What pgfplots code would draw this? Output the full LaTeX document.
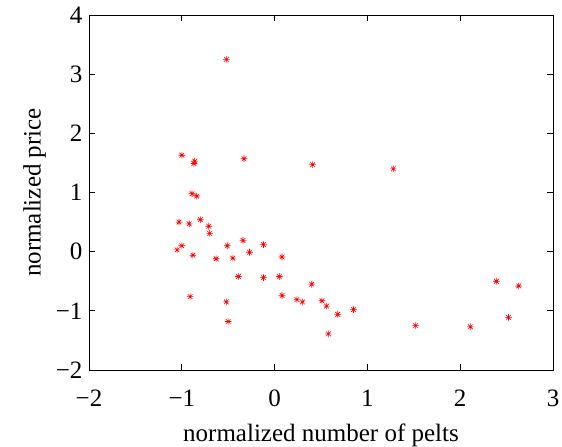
\documentclass[border=0pt]{standalone}
\usepackage{fontspec}
\setmainfont{Liberation Serif}
\usepackage{pgfplots}
\pgfplotsset{compat=1.18}
% matlab style '*': a plus and a cross on top of each other
\pgfdeclareplotmark{mstar}{%
	\pgfpathmoveto{\pgfqpoint{-\pgfplotmarksize}{0pt}}\pgfpathlineto{\pgfqpoint{\pgfplotmarksize}{0pt}}%
	\pgfpathmoveto{\pgfqpoint{0pt}{-\pgfplotmarksize}}\pgfpathlineto{\pgfqpoint{0pt}{\pgfplotmarksize}}%
	\pgfpathmoveto{\pgfqpoint{-0.7\pgfplotmarksize}{-0.7\pgfplotmarksize}}\pgfpathlineto{\pgfqpoint{0.7\pgfplotmarksize}{0.7\pgfplotmarksize}}%
	\pgfpathmoveto{\pgfqpoint{-0.7\pgfplotmarksize}{0.7\pgfplotmarksize}}\pgfpathlineto{\pgfqpoint{0.7\pgfplotmarksize}{-0.7\pgfplotmarksize}}%
	\pgfusepathqstroke}
\begin{document}
\begin{tikzpicture}
\begin{axis}[
	name=ax,
	scale only axis,
	width=464bp, height=355bp,
	xmin=-2, xmax=3, ymin=-2, ymax=4,
	xtick={-2,-1,0,1,2,3},
	xticklabels={−2,−1,0,1,2,3},
	ytick={-2,-1,0,1,2,3,4},
	yticklabels={−2,−1,0,1,2,3,4},
	tick align=inside,
	major tick length=6bp,
	axis line style={line width=0.8pt},
	every tick/.style={black, line width=0.8pt},
	tick label style={font=\fontsize{25bp}{28bp}\selectfont},
	xticklabel style={yshift=-16bp},
	yticklabel style={xshift=-3bp},
	label style={font=\fontsize{25bp}{28bp}\selectfont},
	xlabel style={yshift=-11bp},
	ylabel style={yshift=3bp},
	xlabel={normalized number of pelts},
	ylabel={normalized price},
	]
	% pelts vs price, both normalized
	\addplot[only marks, mark=mstar, mark size=3.3bp, red, line width=0.6pt] coordinates {
		(-1.00,1.63) (-0.86,1.53) (-0.87,1.49) (-0.33,1.57)
		(-0.89,0.98) (-0.84,0.94) (-1.03,0.50) (-0.92,0.47)
		(-0.80,0.54) (-0.71,0.43) (-0.70,0.31) (-1.00,0.10)
		(-1.05,0.03) (-0.88,-0.06) (-0.51,0.10) (-0.34,0.19)
		(-0.63,-0.12) (-0.45,-0.11) (-0.27,-0.01) (-0.12,0.12)
		(0.08,-0.09) (-0.39,-0.42) (-0.12,-0.44) (0.05,-0.42)
		(-0.91,-0.76) (-0.52,-0.85) (0.08,-0.74) (0.24,-0.81)
		(-0.50,-1.18) (0.30,-0.85) (0.40,-0.55) (0.51,-0.83)
		(0.56,-0.92) (0.68,-1.06) (0.85,-0.98) (0.58,-1.39)
		(1.52,-1.25) (2.11,-1.27) (2.39,-0.50) (2.63,-0.58)
		(2.52,-1.11) (-0.52,3.25) (0.41,1.47) (1.28,1.40)
	};
\end{axis}
\pgfresetboundingbox
\path[use as bounding box] ([xshift=-89bp,yshift=-77bp]ax.south west) rectangle ([xshift=9bp,yshift=15bp]ax.north east);
\end{tikzpicture}
\end{document}
